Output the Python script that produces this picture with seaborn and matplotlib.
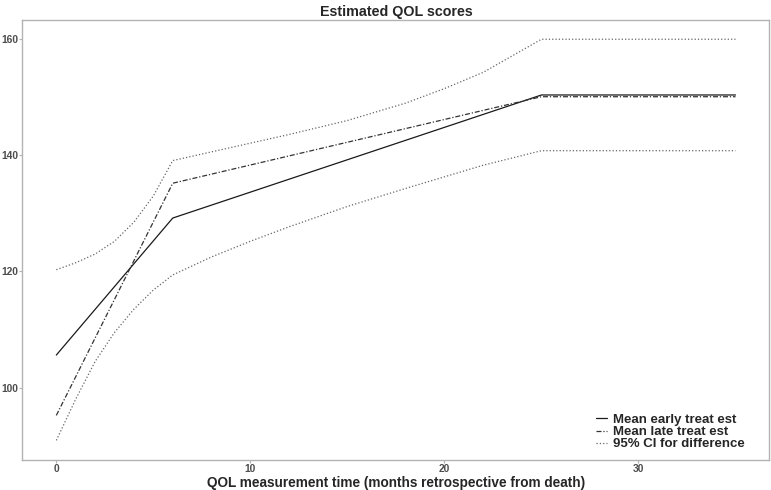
import matplotlib
matplotlib.use("Agg")
import matplotlib.pyplot as plt
import seaborn as sns
import numpy as np
import pandas as pd
from matplotlib.lines import Line2D
from matplotlib import font_manager

# Data
time_knots = [0, 6, 25, 35]
early_mean = [105.6, 129.2, 150.4, 150.4]
late_mean = [95.2, 135.2, 150.1, 150.1]

ci_time = [0, 1, 2, 3, 4, 5, 6, 8, 10, 12, 15, 18, 20, 22, 25, 35]
ci_upper = [120.3, 121.5, 123.0, 125.2, 128.5, 133.0, 139.1, 140.6, 142.1, 143.6, 146.0, 149.0, 151.5, 154.3, 160.0, 160.0]
ci_lower = [90.9, 98.0, 104.5, 109.5, 113.5, 116.8, 119.4, 122.5, 125.2, 127.7, 131.2, 134.3, 136.3, 138.3, 140.8, 140.8]

title = "Estimated QOL scores"
xlabel = "QOL measurement time (months retrospective from death)"
labels = ["Mean early treat est", "Mean late treat est", "95% CI for difference"]

sns.set_theme(style="white")
names = {f.name for f in font_manager.fontManager.ttflist}
narrow = "Liberation Sans Narrow" if "Liberation Sans Narrow" in names else "Liberation Sans"
plt.rcParams['font.family'] = ['Liberation Sans', 'DejaVu Sans']
nfam = [narrow, 'Liberation Sans', 'DejaVu Sans']
scale = 1.0 if narrow == "Liberation Sans Narrow" else 0.82

fig = plt.figure(figsize=(7.71, 4.90), dpi=100)
ax = fig.add_axes([0.029, 0.061, 0.969, 0.898])

dotdash = (0, (4, 1.5, 1, 1.5))
sns.lineplot(x=time_knots, y=early_mean, ax=ax, color="#1a1a1a", linewidth=0.9, linestyle="-")
sns.lineplot(x=time_knots, y=late_mean, ax=ax, color="#333333", linewidth=0.9, linestyle=dotdash)
sns.lineplot(x=ci_time, y=ci_upper, ax=ax, color="#666666", linewidth=0.9, linestyle=":")
sns.lineplot(x=ci_time, y=ci_lower, ax=ax, color="#666666", linewidth=0.9, linestyle=":")

ax.set_xlim(-1.75, 36.75)
ax.set_ylim(87.5, 163.3)
ax.set_xticks([0, 10, 20, 30])
ax.set_yticks([100, 120, 140, 160])

for s in ax.spines.values():
    s.set_visible(True)
    s.set_color("#b3b3b3")
    s.set_linewidth(1.0)

ax.tick_params(axis="both", which="both", length=2, width=0.8, color="#b3b3b3",
               labelsize=9 * scale, labelcolor="#4d4d4d", pad=1, bottom=True, left=True)
for lab in ax.get_xticklabels() + ax.get_yticklabels():
    lab.set_fontweight("bold")
    lab.set_family(nfam)

ax.set_title(title, fontsize=12.5 * scale, fontweight="bold", pad=3, family=nfam)
ax.set_xlabel(xlabel, fontsize=12 * scale, fontweight="bold", labelpad=1, family=nfam)
ax.set_ylabel("")

handles = [
    Line2D([0], [0], color="#1a1a1a", linewidth=0.9, linestyle="-"),
    Line2D([0], [0], color="#333333", linewidth=0.9, linestyle=dotdash),
    Line2D([0], [0], color="#666666", linewidth=0.9, linestyle=":"),
]
leg = ax.legend(handles, labels, loc="lower left", bbox_to_anchor=(0.768, 0.022),
                frameon=False, handlelength=0.8, handletextpad=0.5, labelspacing=0.0,
                borderpad=0, borderaxespad=0,
                prop={"weight": "bold", "size": 9.5})

fig.savefig("out.png", dpi=100)
